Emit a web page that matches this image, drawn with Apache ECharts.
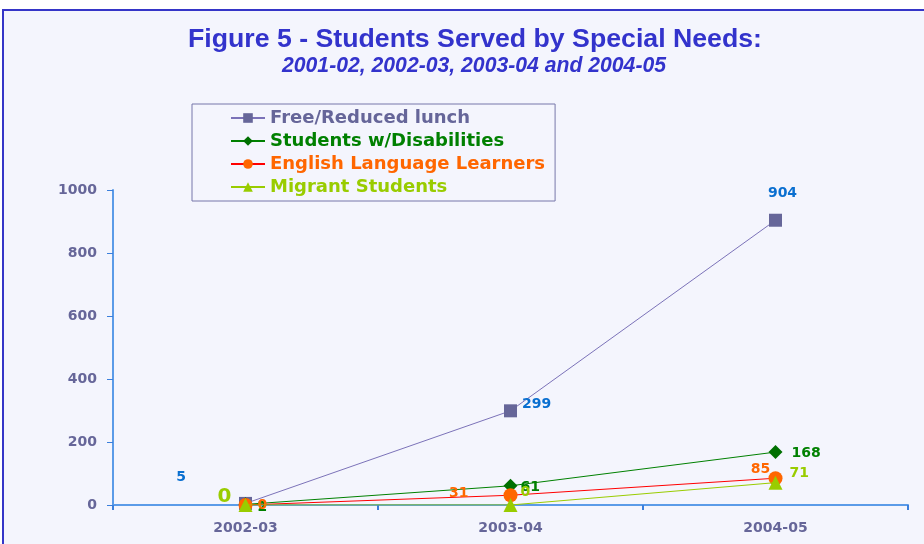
<!DOCTYPE html>
<html>
<head>
<meta charset="utf-8">
<script src="https://cdn.jsdelivr.net/npm/echarts@6/dist/echarts.min.js"></script>
<style>
  html, body { margin: 0; padding: 0; background: #ffffff; }
  #chart { width: 924px; height: 544px; }
</style>
</head>
<body>
<div id="chart"></div>
<script>
// School years on the x axis
const years = ['2002-03', '2003-04', '2004-05'];

// Students served, by special-needs group
const freeReducedLunch = [5, 299, 904];
const disabilities = [2, 61, 168];
const englishLearners = [0, 31, 85];
const migrantStudents = [0, 0, 71];

// Value axis ticks
const yTicks = [0, 200, 400, 600, 800, 1000];

const seriesNames = [
  'Free/Reduced lunch',
  'Students w/Disabilities',
  'English Language Learners',
  'Migrant Students'
];

const chart = echarts.init(document.getElementById('chart'), null, { renderer: 'canvas' });

const labelFont = { fontFamily: 'DejaVu Sans, sans-serif', fontWeight: 'bold', fontSize: 14 };

function pointLabels(values, color, placements) {
  return values.map((v, i) => ({
    value: v,
    label: Object.assign({ show: true, color: color }, labelFont, placements[i])
  }));
}

const option = {
  backgroundColor: '#ffffff',
  animation: false,
  graphic: [{
    type: 'rect',
    z: -10,
    shape: { x: 3, y: 10, width: 940, height: 560 },
    style: { fill: '#f4f5fd', stroke: '#3535c8', lineWidth: 2 }
  }],
  title: [{
    text: 'Figure 5 - Students Served by Special Needs:',
    left: 183,
    top: 21,
    textStyle: { color: '#3333cc', fontFamily: 'Liberation Sans, Arial, sans-serif', fontWeight: 'bold', fontSize: 26.7 }
  }, {
    text: '2001-02, 2002-03, 2003-04 and 2004-05',
    left: 277,
    top: 51,
    textStyle: { color: '#3333cc', fontFamily: 'Liberation Sans, Arial, sans-serif', fontWeight: 'bold', fontStyle: 'italic', fontSize: 21.2 }
  }],
  legend: {
    orient: 'vertical',
    left: 192,
    top: 104,
    padding: [5, 10, 5, 38],
    itemGap: 5,
    itemWidth: 34,
    itemHeight: 12,
    borderColor: '#7777aa',
    borderWidth: 1,
    backgroundColor: '#f4f5fd',
    data: seriesNames.map((n, i) => ({
      name: n,
      textStyle: { color: ['#666699', '#008000', '#ff6600', '#99cc00'][i] }
    })),
    textStyle: { fontFamily: 'DejaVu Sans, sans-serif', fontWeight: 'bold', fontSize: 18 }
  },
  grid: { left: 113, right: 16, top: 190, bottom: 39 },
  xAxis: {
    type: 'category',
    data: years,
    boundaryGap: true,
    axisLine: { lineStyle: { color: '#5b9be8', width: 2 } },
    axisTick: { show: true, length: 5, lineStyle: { color: '#3b7fdc', width: 2 } },
    axisLabel: { color: '#666699', fontFamily: 'DejaVu Sans, sans-serif', fontWeight: 'bold', fontSize: 14, margin: 16 }
  },
  yAxis: {
    type: 'value',
    min: yTicks[0],
    max: yTicks[yTicks.length - 1],
    interval: yTicks[1] - yTicks[0],
    splitLine: { show: false },
    axisLine: { show: true, lineStyle: { color: '#5b9be8', width: 2 } },
    axisTick: { show: true, length: 6, lineStyle: { color: '#3b7fdc' } },
    axisLabel: {
      color: '#666699', fontFamily: 'DejaVu Sans, sans-serif', fontWeight: 'bold', fontSize: 14, margin: 16,
      formatter: v => String(v)
    }
  },
  series: [{
    name: seriesNames[0],
    type: 'line',
    z: 2,
    symbol: 'rect',
    symbolSize: 13,
    itemStyle: { color: '#666699' },
    lineStyle: { color: '#7b72b8', width: 1 },
    data: pointLabels(freeReducedLunch, '#0a6fd0', [
      { position: 'left', offset: [-48, -26] },
      { position: 'right', offset: [0, -6] },
      { position: 'top', offset: [7, -8] }
    ])
  }, {
    name: seriesNames[1],
    type: 'line',
    z: 3,
    symbol: 'diamond',
    symbolSize: 14,
    itemStyle: { color: '#007000' },
    lineStyle: { color: '#008000', width: 1 },
    data: pointLabels(disabilities, '#008000', [
      { position: 'right', offset: [0, 3] },
      { position: 'right', offset: [-2, 2] },
      { position: 'right', offset: [4, 1] }
    ])
  }, {
    name: seriesNames[2],
    type: 'line',
    z: 4,
    symbol: 'circle',
    symbolSize: 14,
    itemStyle: { color: '#ff6600' },
    lineStyle: { color: '#ff0000', width: 1 },
    data: pointLabels(englishLearners, '#ff6600', [
      { position: 'right', offset: [0, 0] },
      { position: 'left', offset: [-30, -2] },
      { position: 'top', offset: [-15, 10] }
    ])
  }, {
    name: seriesNames[3],
    type: 'line',
    z: 5,
    symbol: 'triangle',
    symbolSize: 14,
    itemStyle: { color: '#99cc00' },
    lineStyle: { color: '#99cc00', width: 1 },
    data: pointLabels(migrantStudents, '#99cc00', [
      { position: 'left', offset: [-2, -8], fontSize: 20 },
      { position: 'right', offset: [-2, -13] },
      { position: 'right', offset: [2, -9] }
    ])
  }]
};

chart.setOption(option);
</script>
</body>
</html>
